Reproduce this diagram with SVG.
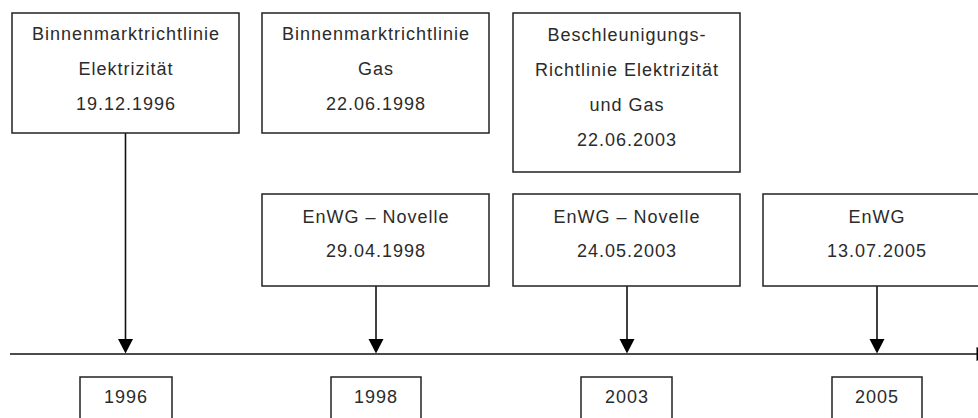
<svg xmlns="http://www.w3.org/2000/svg" width="978" height="418" viewBox="0 0 978 418">
<defs>
<style>
.box{fill:#fff;stroke:#222;stroke-width:1.5}
.t{font-family:"Liberation Sans",Arial,sans-serif;font-size:18px;letter-spacing:1px;fill:#2b2b2b;text-anchor:middle}
.ln{stroke:#111;stroke-width:1.6;fill:none}
.ah{fill:#000}
</style>
</defs>
<rect width="978" height="418" fill="#fff"/>
<g id="connectors">
<line class="ln" x1="10" y1="354" x2="978" y2="354"/>
<polygon class="ah" points="976.5,347 976.5,361 990,354"/>
<line class="ln" x1="125.5" y1="133" x2="125.5" y2="340"/>
<polygon class="ah" points="118,339 133,339 125.5,353.5"/>
<line class="ln" x1="376" y1="286" x2="376" y2="340"/>
<polygon class="ah" points="368.5,339 383.5,339 376,353.5"/>
<line class="ln" x1="627" y1="286" x2="627" y2="340"/>
<polygon class="ah" points="619.5,339 634.5,339 627,353.5"/>
<line class="ln" x1="877" y1="286" x2="877" y2="340"/>
<polygon class="ah" points="869.5,339 884.5,339 877,353.5"/>
</g>
<g id="n-bm-elektrizitaet">
<rect class="box" x="12" y="13" width="227" height="120"/>
<text class="t" x="126" y="40">Binnenmarktrichtlinie</text>
<text class="t" x="126" y="75">Elektrizität</text>
<text class="t" x="126" y="110">19.12.1996</text>
</g>
<g id="n-bm-gas">
<rect class="box" x="262" y="13" width="227" height="120"/>
<text class="t" x="376" y="40">Binnenmarktrichtlinie</text>
<text class="t" x="376" y="75">Gas</text>
<text class="t" x="376" y="110">22.06.1998</text>
</g>
<g id="n-beschleunigung">
<rect class="box" x="513" y="13" width="227" height="159"/>
<text class="t" x="627" y="40.5">Beschleunigungs-</text>
<text class="t" x="627" y="75.7">Richtlinie Elektrizität</text>
<text class="t" x="627" y="110.9">und Gas</text>
<text class="t" x="627" y="146">22.06.2003</text>
</g>
<g id="n-enwg-1998">
<rect class="box" x="262" y="194" width="227" height="92"/>
<text class="t" x="376" y="223">EnWG – Novelle</text>
<text class="t" x="376" y="257">29.04.1998</text>
</g>
<g id="n-enwg-2003">
<rect class="box" x="513" y="194" width="227" height="92"/>
<text class="t" x="627" y="223">EnWG – Novelle</text>
<text class="t" x="627" y="257">24.05.2003</text>
</g>
<g id="n-enwg-2005">
<rect class="box" x="763" y="194" width="227" height="92"/>
<text class="t" x="877" y="223">EnWG</text>
<text class="t" x="877" y="257">13.07.2005</text>
</g>
<g id="y1996">
<rect class="box" x="80" y="377" width="92" height="60"/>
<text class="t" x="126" y="403">1996</text>
</g>
<g id="y1998">
<rect class="box" x="331" y="377" width="90" height="60"/>
<text class="t" x="376" y="403">1998</text>
</g>
<g id="y2003">
<rect class="box" x="581" y="377" width="91" height="60"/>
<text class="t" x="627" y="403">2003</text>
</g>
<g id="y2005">
<rect class="box" x="832" y="377" width="90" height="60"/>
<text class="t" x="877" y="403">2005</text>
</g>
</svg>
